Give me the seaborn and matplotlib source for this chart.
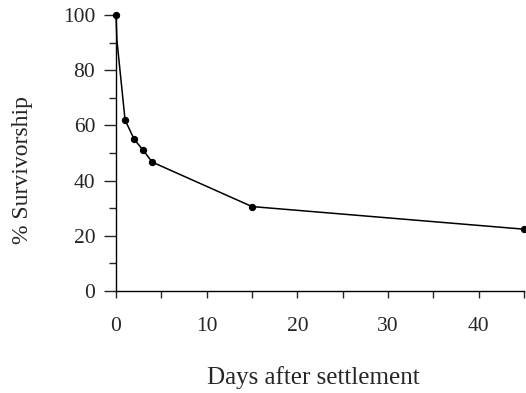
import pandas as pd
import matplotlib
matplotlib.use("Agg")
import matplotlib.pyplot as plt
import seaborn as sns
from matplotlib.ticker import MultipleLocator

# Datos
dias = [0, 0.1, 1, 2, 3, 4, 15, 45]
supervivencia = [100, 91, 62, 55, 51, 46.7, 30.6, 22.4]
# puntos con marcador (el quiebre en 91 no lleva punto)
con_marcador = [0, 2, 3, 4, 5, 6, 7]

df = pd.DataFrame({"Dias": dias, "Supervivencia": supervivencia})

sns.set_style("ticks")
plt.rcParams['font.family'] = ['Liberation Serif', 'DejaVu Serif']

fig = plt.figure(figsize=(5.26, 3.93), dpi=100)
ax = fig.add_axes([0.2205, 0.2595, 0.7757, 0.7023])

sns.lineplot(data=df, x="Dias", y="Supervivencia", ax=ax, color="black",
             linewidth=1.1, marker="o", markersize=4.5, markeredgecolor="black",
             markevery=con_marcador, clip_on=False, sort=False)

ax.set_xlim(0, 45)
ax.set_ylim(0, 100)
ax.xaxis.set_major_locator(MultipleLocator(10))
ax.xaxis.set_minor_locator(MultipleLocator(5))
ax.yaxis.set_major_locator(MultipleLocator(20))
ax.yaxis.set_minor_locator(MultipleLocator(10))

ax.tick_params(axis="y", which="major", length=9, width=1, direction="out", labelsize=15.5, pad=6)
ax.tick_params(axis="y", which="minor", length=5, width=1, direction="out")
ax.tick_params(axis="x", which="both", length=5, width=1, direction="out", labelsize=15.5, pad=14)

for lado in ["top", "right"]:
    ax.spines[lado].set_visible(False)
for lado in ["left", "bottom"]:
    ax.spines[lado].set_linewidth(1)
    ax.spines[lado].set_color("black")

ax.set_xlabel("Days after settlement", fontsize=18)
ax.set_ylabel("% Survivorship", fontsize=17, va="center")
ax.xaxis.set_label_coords(0.484, -0.27)
ax.yaxis.set_label_coords(-0.229, 0.44)

fig.savefig("out.png", dpi=100)
plt.close(fig)
